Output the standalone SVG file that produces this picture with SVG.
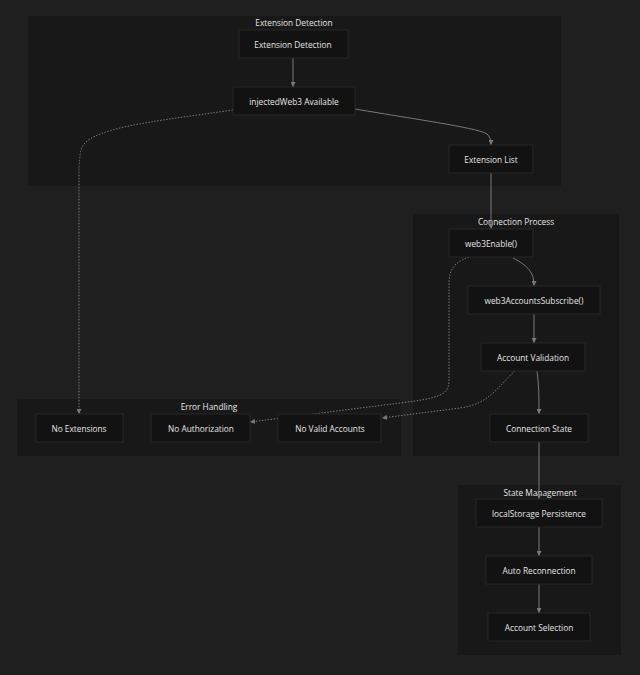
<svg xmlns="http://www.w3.org/2000/svg" width="640" height="675" viewBox="0 0 640 675">
<style>
.bg{fill:#1f1f1f}
.cl{fill:#181818}
.nd{fill:#121212;stroke:#262626;stroke-width:1}
text{font-family:"Open Sans","Liberation Sans",sans-serif;font-size:8.3px;fill:#e6e6e6;text-anchor:middle;dominant-baseline:central}
.e{fill:none;stroke:#7a7a7a;stroke-width:1}
.d{fill:none;stroke:#7a7a7a;stroke-width:1;stroke-dasharray:1.5 1.5}
</style>
<defs>
<marker id="ah" viewBox="0 0 10 10" refX="10" refY="5" markerWidth="5" markerHeight="5" markerUnits="userSpaceOnUse" orient="auto"><path d="M0,0L10,5L0,10z" fill="#7a7a7a"/></marker>
</defs>
<rect class="bg" x="0" y="0" width="640" height="675"/>
<g id="clusters">
<g id="cluster-extension-detection"><rect class="cl" x="28" y="16" width="533" height="170"/><text x="294" y="22">Extension Detection</text></g>
<g id="cluster-connection-process"><rect class="cl" x="413" y="214" width="206" height="242"/><text x="516" y="221">Connection Process</text></g>
<g id="cluster-error-handling"><rect class="cl" x="17" y="399" width="384" height="57"/><text x="209" y="406">Error Handling</text></g>
<g id="cluster-state-management"><rect class="cl" x="458" y="485" width="163" height="170"/><text x="540" y="492">State Management</text></g>
</g>
<g id="connectors">
<path class="e" d="M293,58L293,87" marker-end="url(#ah)"/>
<path class="e" d="M355,109C420,120 478,128 487,134Q491,137 491,145" marker-end="url(#ah)"/>
<path class="d" d="M233,110C150,122 86,128 81,150Q79,158 79,175L79,414" marker-end="url(#ah)"/>
<path class="e" d="M491,173L491,229" marker-end="url(#ah)"/>
<path class="e" d="M513,258C528,266 534,272 534,286" marker-end="url(#ah)"/>
<path class="d" d="M469,257C453,263 449,270 449,285L449,380C449,395 440,398 400,403L250,422" marker-end="url(#ah)"/>
<path class="e" d="M534,314L534,343" marker-end="url(#ah)"/>
<path class="d" d="M515,371C498,386 490,404 460,408L382,418" marker-end="url(#ah)"/>
<path class="e" d="M537,371C539,385 539,398 539,414" marker-end="url(#ah)"/>
<path class="e" d="M539,442L539,499" marker-end="url(#ah)"/>
<path class="e" d="M539,527L539,556" marker-end="url(#ah)"/>
<path class="e" d="M539,584L539,613" marker-end="url(#ah)"/>
</g>
<g id="n-extension-detection"><rect class="nd" x="239" y="30" width="109" height="28"/><text x="293" y="44">Extension Detection</text></g>
<g id="n-injected"><rect class="nd" x="233" y="87" width="122" height="28"/><text x="294" y="101">injectedWeb3 Available</text></g>
<g id="n-extension-list"><rect class="nd" x="449" y="145" width="84" height="28"/><text x="491" y="159">Extension List</text></g>
<g id="n-web3enable"><rect class="nd" x="449" y="229" width="84" height="28"/><text x="491" y="243">web3Enable()</text></g>
<g id="n-subscribe"><rect class="nd" x="468" y="286" width="132" height="28"/><text x="534" y="300">web3AccountsSubscribe()</text></g>
<g id="n-account-validation"><rect class="nd" x="481" y="343" width="104" height="28"/><text x="533" y="357">Account Validation</text></g>
<g id="n-connection-state"><rect class="nd" x="490" y="414" width="98" height="28"/><text x="539" y="428">Connection State</text></g>
<g id="n-no-extensions"><rect class="nd" x="36" y="414" width="87" height="28"/><text x="79" y="428">No Extensions</text></g>
<g id="n-no-authorization"><rect class="nd" x="151" y="414" width="99" height="28"/><text x="201" y="428">No Authorization</text></g>
<g id="n-no-valid-accounts"><rect class="nd" x="278" y="414" width="103" height="28"/><text x="330" y="428">No Valid Accounts</text></g>
<g id="n-localstorage"><rect class="nd" x="476" y="499" width="126" height="28"/><text x="539" y="513">localStorage Persistence</text></g>
<g id="n-auto-reconnection"><rect class="nd" x="486" y="556" width="106" height="28"/><text x="539" y="570">Auto Reconnection</text></g>
<g id="n-account-selection"><rect class="nd" x="488" y="613" width="102" height="28"/><text x="539" y="627">Account Selection</text></g>
</svg>
